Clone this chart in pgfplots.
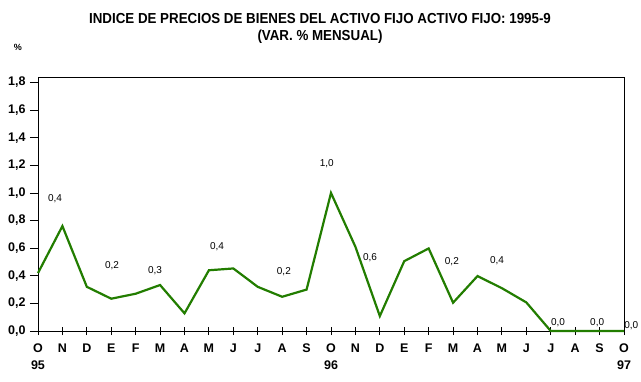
\documentclass[border=0pt]{standalone}
\usepackage{pgfplots}
\pgfplotsset{compat=1.18}
\usepackage{pgfplotstable}
\usepackage{fontspec}
\setmainfont{Liberation Sans}
\newfontfamily\titlefont[FakeStretch=0.92]{Liberation Sans}
\definecolor{linegreen}{RGB}{34,125,0}
\pgfplotstableread{
x y
0 0.42
1 0.76
2 0.32
3 0.234
4 0.27
5 0.333
6 0.128
7 0.44
8 0.453
9 0.32
10 0.248
11 0.30
12 1.00
13 0.61
14 0.108
15 0.506
16 0.598
17 0.205
18 0.398
19 0.31
20 0.207
21 0.0
22 0.0
23 0.0
24 0.0
}\seriesdata
\pgfplotstableread{
x y label
0.70 0.96 0,4
3.03 0.47 0,2
4.79 0.44 0,3
7.33 0.61 0,4
10.07 0.43 0,2
11.83 1.21 1,0
13.60 0.53 0,6
16.95 0.50 0,2
18.80 0.51 0,4
21.30 0.06 0,0
22.90 0.06 0,0
24.30 0.04 0,0
}\labeldata
\begin{document}
\begin{tikzpicture}
\path[use as bounding box] (0,0) rectangle (641bp,382bp);
\node[font=\titlefont\bfseries\fontsize{14.5bp}{16bp}\selectfont] at (320bp,363bp) {INDICE DE PRECIOS DE BIENES DEL ACTIVO FIJO ACTIVO FIJO: 1995-9};
\node[font=\titlefont\bfseries\fontsize{14.5bp}{16bp}\selectfont] at (320bp,345bp) {(VAR. \% MENSUAL)};
\node[font=\bfseries\fontsize{9bp}{10bp}\selectfont] at (18bp,335bp) {\%};
\begin{axis}[
  at={(38bp,51bp)}, anchor=south west,
  scale only axis, width=586bp, height=254bp,
  xmin=0, xmax=24, ymin=0, ymax=1.84,
  clip=false,
  axis line style={line width=0.9bp},
  xtick={0,...,24},
  xticklabels={{O\\95},N,D,E,F,M,A,M,J,J,A,S,{O\\96},N,D,E,F,M,A,M,J,J,A,S,{O\\97}},
  ytick={0,0.2,...,1.8},
  major tick length=8bp,
  tick style={line width=0.9bp, black},
  xtick align=center,
  ytick align=outside,
  xtick pos=bottom, ytick pos=left,
  tick label style={font=\bfseries\fontsize{12.5bp}{17bp}\selectfont},
  xticklabel style={align=center, yshift=-5bp},
  yticklabel style={xshift=-1bp},
  /pgf/number format/.cd, fixed, fixed zerofill, precision=1, use comma, assume math mode=true,
]
\addplot[linegreen, line width=2.2bp, mark=none] table[x=x,y=y] {\seriesdata};
\addplot[draw=none, mark=none, nodes near coords, point meta=explicit symbolic,
  nodes near coords style={anchor=center, font=\fontsize{10bp}{11bp}\selectfont, black}]
  table[x=x,y=y,meta=label] {\labeldata};
\end{axis}
\end{tikzpicture}
\end{document}
